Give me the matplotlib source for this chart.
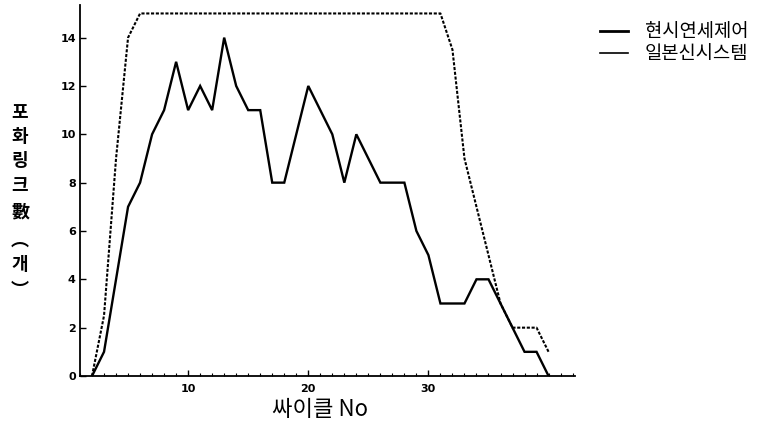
import numpy as np
import matplotlib
matplotlib.use('Agg')
import matplotlib.pyplot as plt
from matplotlib.lines import Line2D
from matplotlib.ticker import MultipleLocator

plt.rcParams['font.family'] = ['Noto Sans CJK KR', 'DejaVu Sans']

# 현시연세제어 (solid)
cycle_a = [2, 3, 4, 5, 6, 7, 8, 9, 10, 11, 12, 13, 14, 15, 16, 17, 18, 19, 20,
           21, 22, 23, 24, 25, 26, 27, 28, 29, 30, 31, 32, 33, 34, 35, 36, 37,
           38, 39, 40]
links_a = [0, 1, 4, 7, 8, 10, 11, 13, 11, 12, 11, 14, 12, 11, 11, 8, 8, 10, 12,
           11, 10, 8, 10, 9, 8, 8, 8, 6, 5, 3, 3, 3, 4, 4, 3, 2,
           1, 1, 0]

# 일본신시스템 (dotted)
cycle_b = [2, 3, 4, 5, 6, 10, 20, 31, 32, 33, 34, 35, 36, 37, 38, 39, 40]
links_b = [0, 2.5, 9, 14, 15, 15, 15, 15, 13.5, 9, 7, 5, 3, 2, 2, 2, 1]

names = ['현시연세제어', '일본신시스템']
ylabel_chars = ['포', '화', '링', '크', '數', '︵', '개', '︶']

fig = plt.figure(figsize=(7.64, 4.30), dpi=100)
ax = fig.add_axes([80 / 764, 1 - 376 / 430, 495 / 764, 371 / 430])

ax.plot(cycle_a, links_a, color='black', lw=1.7, solid_joinstyle='miter')
ax.plot(cycle_b, links_b, color='black', lw=1.5, linestyle=(0, (1.5, 0.8)))

ax.set_xlim(1, 42.2)
ax.set_ylim(0, 15.35)
ax.spines['top'].set_visible(False)
ax.spines['right'].set_visible(False)
ax.spines['left'].set_linewidth(1.3)
ax.spines['bottom'].set_linewidth(1.3)

ax.set_xticks([10, 20, 30])
ax.xaxis.set_minor_locator(MultipleLocator(1))
ax.set_yticks(np.arange(0, 15, 2))
ax.tick_params(axis='both', which='major', direction='in', length=4, width=1,
               labelsize=8)
ax.tick_params(axis='x', which='minor', direction='in', length=2.5, width=0.8)
for lab in ax.get_xticklabels() + ax.get_yticklabels():
    lab.set_fontfamily('DejaVu Sans')
    lab.set_fontweight('bold')
ax.tick_params(axis='x', pad=6)
ax.tick_params(axis='y', pad=3)

# vertical stacked y label
ypos = [113, 137, 161, 186, 212, 240, 265, 290]
for ch, yp in zip(ylabel_chars, ypos):
    fig.text(20 / 764, 1 - yp / 430, ch, ha='center', va='center',
             fontsize=13, fontweight='bold')

fig.text(320 / 764, 1 - 410 / 430, '싸이클 No', ha='center', va='center',
         fontsize=16)

handles = [Line2D([], [], color='black', lw=2),
           Line2D([], [], color='black', lw=1.2)]
fig.legend(handles, names, loc='upper left', bbox_to_anchor=(592 / 764, 1 - 14 / 430),
           frameon=False, fontsize=13.5, handlelength=1.5, handletextpad=0.9,
           labelspacing=0.05, borderaxespad=0)

fig.savefig('out.png', dpi=100)
